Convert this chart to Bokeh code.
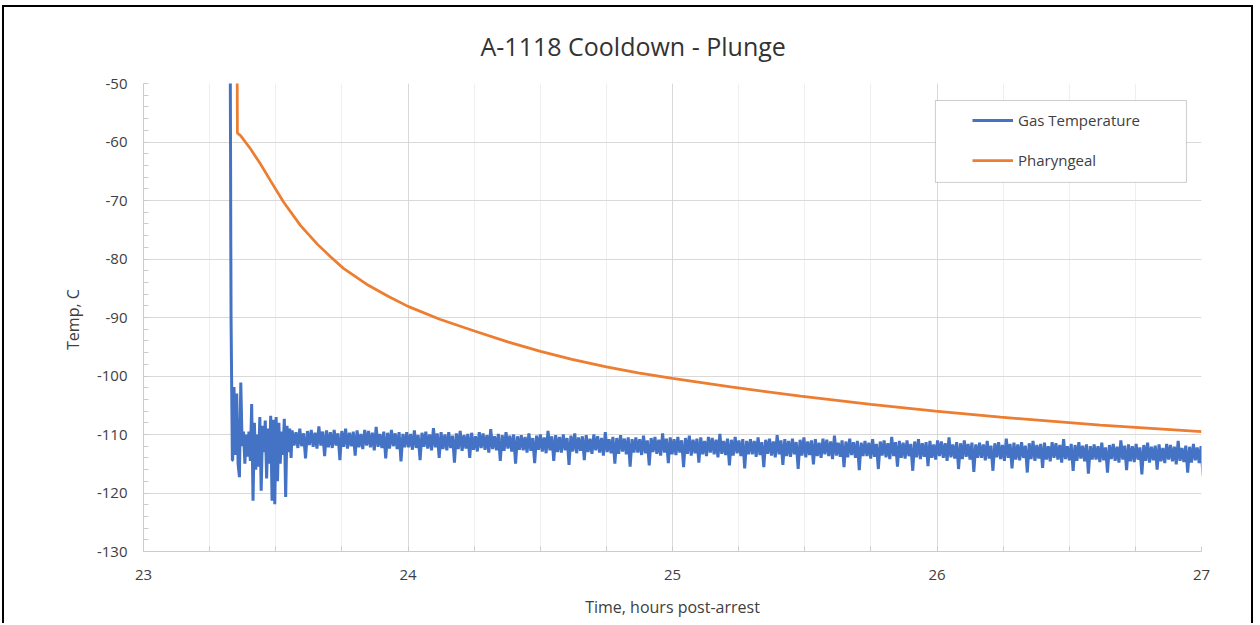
import numpy as np
from bokeh.plotting import figure
from bokeh.models import (Range1d, SingleIntervalTicker, Legend, LegendItem,
                          BoxAnnotation)
from bokeh.embed import file_html
from bokeh.resources import INLINE

# ---------------- data ----------------
title_text = "A-1118 Cooldown - Plunge"
x_label = "Time, hours post-arrest"
y_label = "Temp,  C"
series_names = ["Gas Temperature", "Pharyngeal"]
y_ticks = [-130, -120, -110, -100, -90, -80, -70, -60, -50]

# Pharyngeal (orange)
phar_t = [23.352, 23.355, 23.367, 23.405, 23.44, 23.48, 23.53, 23.594, 23.658,
          23.707, 23.756, 23.85, 23.93, 24.0, 24.12, 24.251, 24.38, 24.501,
          24.62, 24.75, 24.87, 25.0, 25.22, 25.484, 25.75, 25.994, 26.24,
          26.618, 27.0]
phar_v = [-20.0, -58.5, -58.9, -61.2, -63.6, -66.6, -70.3, -74.3, -77.5,
          -79.6, -81.6, -84.5, -86.5, -88.1, -90.3, -92.3, -94.2, -95.8,
          -97.15, -98.45, -99.45, -100.4, -101.85, -103.45, -104.85, -106.0,
          -107.05, -108.4, -109.5]

# Gas temperature (blue) - initial plunge
gas_drop_t = [23.326, 23.329, 23.330, 23.331, 23.333, 23.336]
gas_drop_v = [-20.0, -60.0, -77.0, -90.0, -100.0, -114.4]

# Gas temperature - early strong oscillation (sampled 23.337 .. 23.558 h)
gas_early_span = [23.337, 23.558]
gas_early_v = [-114.4, -101.9, -113.5, -103.0, -115.0, -117.3, -101.1, -112.0,
               -109.5, -115.0, -110.0, -113.8, -109.5, -114.5, -104.8, -121.3,
               -108.0, -116.0, -110.0, -115.5, -107.0, -119.6, -108.5, -113.0,
               -107.6, -117.5, -109.0, -115.0, -106.8, -121.3, -107.5, -121.9,
               -107.0, -118.0, -108.0, -115.0, -109.5, -113.5, -107.3, -120.7,
               -108.5, -113.0, -109.0, -114.0]

# Gas temperature - steady band (sampled 23.562 .. 27.02 h)
gas_main_span = [23.562, 27.02]
gas_main_v = [
    -109.3, -111.9, -109.6, -112.3, -109.0, -112.0, -109.8, -114.1, -109.4, -111.8,
    -109.2, -112.1, -109.7, -112.4, -108.6, -111.9, -109.5, -113.7, -109.3, -112.2,
    -109.6, -112.3, -109.2, -111.9, -109.8, -114.4, -109.4, -112.1, -109.0, -112.4,
    -109.7, -112.0, -109.5, -113.6, -109.3, -112.2, -109.9, -112.5, -109.2, -111.9,
    -109.4, -112.2, -109.7, -112.7, -108.7, -112.1, -109.9, -112.3, -109.5, -114.1,
    -109.7, -112.4, -109.2, -112.0, -109.8, -112.5, -109.6, -114.6, -109.9, -112.2,
    -109.6, -112.2, -109.9, -112.6, -109.3, -112.3, -110.1, -114.4, -109.7, -112.1,
    -109.5, -112.4, -110.0, -112.7, -108.9, -112.2, -109.8, -114.0, -109.6, -112.5,
    -110.0, -112.7, -109.6, -112.3, -110.2, -114.8, -109.8, -112.5, -109.4, -112.8,
    -110.1, -112.4, -109.9, -114.0, -109.7, -112.6, -110.3, -112.9, -109.6, -112.3,
    -109.8, -112.6, -110.1, -113.1, -109.1, -112.5, -110.3, -112.7, -109.9, -114.5,
    -110.1, -112.8, -109.6, -112.4, -110.2, -112.9, -110.0, -115.0, -110.3, -112.6,
    -110.1, -112.7, -110.4, -113.1, -109.8, -112.8, -110.6, -114.9, -110.2, -112.6,
    -110.0, -112.9, -110.5, -113.2, -109.4, -112.7, -110.3, -114.5, -110.1, -113.0,
    -110.4, -113.1, -110.0, -112.7, -110.6, -115.2, -110.2, -112.9, -109.8, -113.2,
    -110.5, -112.8, -110.3, -114.4, -110.1, -113.0, -110.7, -113.3, -110.0, -112.7,
    -110.3, -113.1, -110.6, -113.6, -109.6, -113.0, -110.8, -113.2, -110.4, -115.0,
    -110.6, -113.3, -110.1, -112.9, -110.7, -113.4, -110.5, -115.5, -110.8, -113.1,
    -110.5, -113.1, -110.8, -113.5, -110.2, -113.2, -111.0, -115.3, -110.6, -113.0,
    -110.4, -113.3, -110.9, -113.6, -109.8, -113.1, -110.7, -114.9, -110.5, -113.4,
    -110.8, -113.5, -110.4, -113.1, -111.0, -115.6, -110.6, -113.3, -110.2, -113.6,
    -110.9, -113.2, -110.7, -114.8, -110.5, -113.4, -111.1, -113.7, -110.4, -113.1,
    -110.6, -113.4, -110.9, -113.9, -109.9, -113.3, -111.1, -113.5, -110.7, -115.3,
    -110.9, -113.6, -110.4, -113.2, -111.0, -113.7, -110.8, -115.8, -111.1, -113.4,
    -110.8, -113.4, -111.1, -113.8, -110.5, -113.5, -111.3, -115.6, -110.9, -113.3,
    -110.7, -113.6, -111.2, -113.9, -110.1, -113.4, -111.0, -115.2, -110.8, -113.7,
    -111.1, -113.8, -110.7, -113.4, -111.3, -115.9, -110.9, -113.6, -110.5, -113.9,
    -111.2, -113.5, -111.0, -115.1, -110.8, -113.7, -111.4, -114.0, -110.7, -113.4,
    -110.9, -113.7, -111.2, -114.2, -110.2, -113.6, -111.4, -113.8, -111.0, -115.6,
    -111.2, -113.9, -110.7, -113.5, -111.3, -114.0, -111.1, -116.1, -111.4, -113.7,
    -111.1, -113.7, -111.4, -114.1, -110.8, -113.8, -111.6, -115.9, -111.2, -113.6,
    -111.0, -113.9, -111.5, -114.2, -110.4, -113.7, -111.3, -115.5, -111.1, -114.0,
    -111.4, -114.1, -111.0, -113.7, -111.6, -116.2, -111.2, -113.9, -110.8, -114.2,
    -111.5, -113.8, -111.3, -115.4, -111.1, -114.0, -111.7, -114.3, -111.0, -113.7,
    -111.2, -114.0, -111.5, -114.5, -110.5, -113.9, -111.7, -114.1, -111.3, -115.9,
    -111.5, -114.2, -111.0, -113.8, -111.6, -114.3, -111.4, -116.4, -111.7, -114.0,
    -111.4, -114.0, -111.7, -114.4, -111.1, -114.1, -111.9, -116.2, -111.5, -113.9,
    -111.3, -114.2, -111.8, -114.5, -110.7, -114.0, -111.6, -115.8, -111.4, -114.3,
    -111.7, -114.4, -111.3, -114.0, -111.9, -116.5, -111.5, -114.2, -111.1, -114.5,
    -111.8, -114.1, -111.6, -115.7, -111.4, -114.3, -112.0, -114.6, -111.3, -114.0,
    -111.5, -114.3, -111.8, -114.8, -110.8, -114.2, -112.0, -114.4, -111.6, -116.2,
    -111.8, -114.5, -111.3, -114.1, -111.9, -114.6, -111.7, -116.7, -112.0, -114.3,
    -111.7, -114.3, -112.0, -114.7, -111.4, -114.4, -112.2, -116.5, -111.8, -114.2,
    -111.6, -114.5, -112.1, -114.8, -111.0, -114.3, -111.9, -116.1, -111.7, -114.6,
    -112.0, -114.7, -111.6, -114.3, -112.2, -116.8, -111.8, -114.5, -111.4, -114.8,
    -112.1, -114.4, -111.9, -116.0, -111.7, -114.6, -112.3, -114.9, -111.6, -114.3,
    -111.8, -114.6, -112.1, -115.1, -111.1, -114.5, -112.3, -114.7, -111.9, -116.5,
    -112.1, -114.8, -111.6, -114.4, -112.2, -114.9, -112.0, -117.0, -112.3, -114.6,
]

# evenly sampled logger times for the two oscillating parts
gas_t = (list(gas_drop_t)
         + list(np.linspace(gas_early_span[0], gas_early_span[1], len(gas_early_v)))
         + list(np.linspace(gas_main_span[0], gas_main_span[1], len(gas_main_v))))
gas_v = gas_drop_v + gas_early_v + gas_main_v

# ---------------- styling ----------------
FONT = "Open Sans"
TXT = "#404040"
BLUE = "#4472C4"
ORANGE = "#ED7D31"

p = figure(width=1251, height=618,
           x_range=Range1d(23, 27), y_range=Range1d(-130, -50),
           output_backend="svg", toolbar_location=None,
           min_border_left=139, min_border_right=54,
           min_border_top=76, min_border_bottom=74)
p.styles = {"border-left": "2px solid #000000",
            "border-right": "2px solid #000000",
            "border-top": "2px solid #000000",
            "margin-left": "2px", "margin-top": "5px"}

p.title.text = title_text
p.title.align = "left"
p.title.vertical_align = "top"
p.title.text_font = FONT
p.title.text_font_size = "25px"
p.title.text_font_style = "normal"
p.title.text_color = "#333333"
p.title.standoff = 38
p.title.offset = 337

p.outline_line_color = None
p.background_fill_color = "white"
p.border_fill_color = "white"

# axes
p.xaxis.ticker = SingleIntervalTicker(interval=1, num_minor_ticks=4)
p.yaxis.ticker = SingleIntervalTicker(interval=10, num_minor_ticks=5)
for ax in (p.xaxis, p.yaxis):
    ax.axis_line_color = "#cccccc"
    ax.axis_line_width = 1
    ax.major_tick_in = 0
    ax.major_tick_out = 0
    ax.minor_tick_in = 5
    ax.minor_tick_out = 0
    ax.minor_tick_line_color = "#cccccc"
    ax.major_label_text_font = FONT
    ax.major_label_text_font_size = "15px"
    ax.major_label_text_color = TXT
    ax.axis_label_text_font = FONT
    ax.axis_label_text_font_size = "16px"
    ax.axis_label_text_font_style = "normal"
    ax.axis_label_text_color = TXT
p.yaxis.major_label_overrides = {v: str(v) for v in y_ticks}
p.xaxis.axis_label = x_label
p.yaxis.axis_label = y_label
p.yaxis.major_label_standoff = 16
p.xaxis.major_label_standoff = 18
p.yaxis.axis_label_standoff = 10
p.xaxis.axis_label_standoff = 13

# grids
p.xgrid.ticker = p.xaxis.ticker
p.ygrid.ticker = p.yaxis.ticker
p.xgrid.grid_line_color = "#d9d9d9"
p.ygrid.grid_line_color = "#d9d9d9"
p.xgrid.minor_grid_line_color = "#efefef"
p.ygrid.minor_grid_line_color = None

# series
r_gas = p.line(gas_t, gas_v, line_color=BLUE, line_width=3)
r_phar = p.line(phar_t, phar_v, line_color=ORANGE, line_width=2.75)

# legend frame + legend
frame_box = BoxAnnotation(left=25.994, right=26.943, top=-52.9, bottom=-66.9,
                          fill_color="white", fill_alpha=1.0,
                          line_color="#595959", line_width=1)
p.add_layout(frame_box)

legend = Legend(items=[LegendItem(label=series_names[0], renderers=[r_gas]),
                       LegendItem(label=series_names[1], renderers=[r_phar])],
                location=(819, 371), orientation="vertical",
                glyph_width=41, glyph_height=20, label_height=20,
                spacing=20, padding=10, margin=0, label_standoff=5,
                label_text_font=FONT, label_text_font_size="15px",
                label_text_color=TXT,
                border_line_alpha=0, background_fill_alpha=0)
p.add_layout(legend)

open("out.html", "w").write(file_html(p, INLINE))
